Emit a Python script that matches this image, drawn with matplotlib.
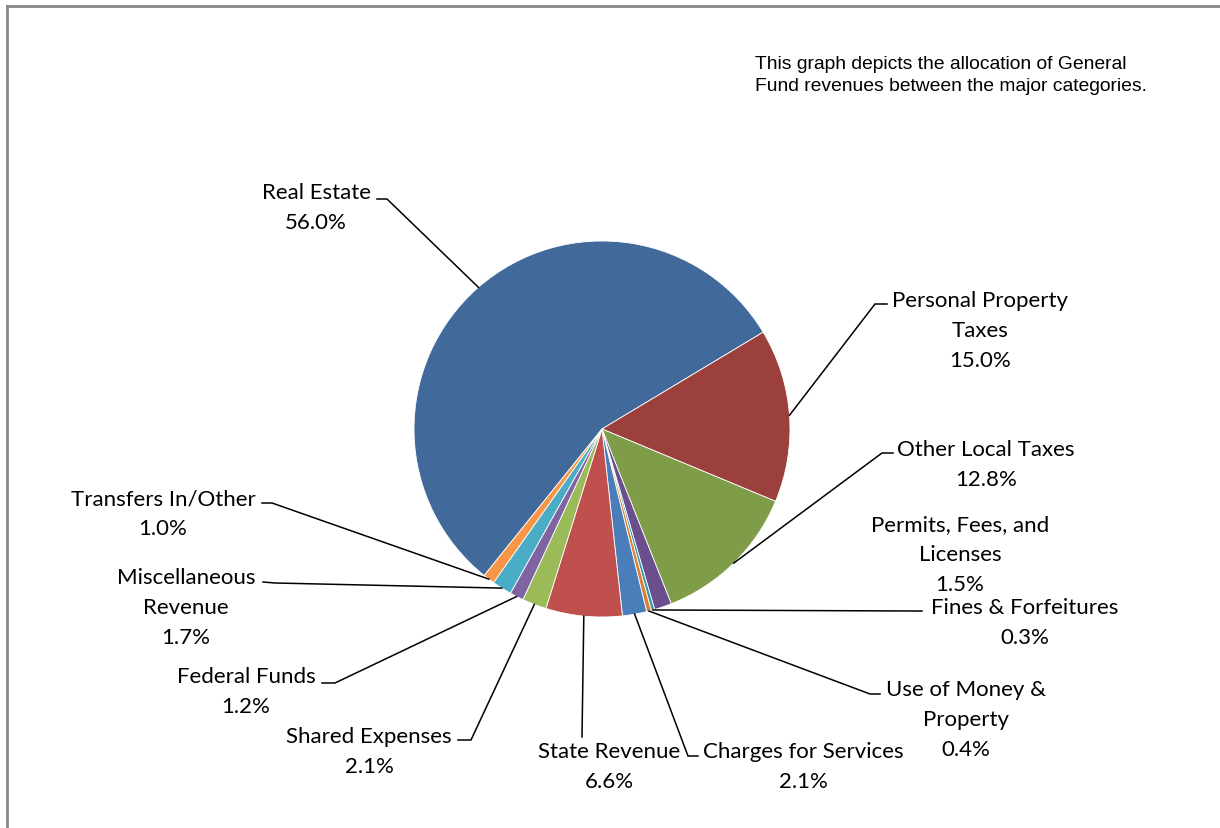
import matplotlib.pyplot as plt
from matplotlib.lines import Line2D
import numpy as np

W, H = 1220, 829

categories = ["Real Estate", "Personal Property\nTaxes", "Other Local Taxes",
              "Permits, Fees, and\nLicenses", "Fines & Forfeitures",
              "Use of Money &\nProperty", "Charges for Services", "State Revenue",
              "Shared Expenses", "Federal Funds", "Miscellaneous\nRevenue",
              "Transfers In/Other"]
shares = [56.0, 15.0, 12.8, 1.5, 0.3, 0.4, 2.1, 6.6, 2.1, 1.2, 1.7, 1.0]
colors = ["#416A9B", "#9C403E", "#7F9C48", "#6B4F8C", "#3A96AC", "#DB8032",
          "#4A7EBB", "#C0504D", "#9BBB59", "#8064A2", "#4BACC6", "#F79646"]

# label block centres, in pixels from the top-left corner
label_xy = [(316, 208), (980, 331), (986, 465), (960, 555), (1025, 623),
            (966, 720), (803, 767), (609, 767), (369, 752), (246, 692),
            (186, 608), (163, 514)]
# leader lines: elbow point, then end of the short stub next to the text
elbows = [((387, 200), (377, 200)), ((875, 305), (887, 305)),
          ((882, 454), (893, 454)), None, ((914, 612), (922, 612)),
          ((870, 695), (880, 695)), ((688, 757), (698, 757)),
          ((582, 738), (582, 738)), ((471, 741), (458, 741)),
          ((335, 684), (322, 684)), ((275, 584), (263, 583)),
          ((272, 504), (262, 504))]

cx, cy, r = 602, H - 430, 188

fig = plt.figure(figsize=(12.2, 8.29), dpi=100)
ax = fig.add_axes([0, 0, 1, 1])

wedges, _ = ax.pie(shares, colors=colors, startangle=231.2, counterclock=False,
                   center=(cx, cy), radius=r, frame=True,
                   wedgeprops=dict(edgecolor="white", linewidth=0.6))

for w, name, v, (lx, ly), el in zip(wedges, categories, shares, label_xy, elbows):
    ax.text(lx, H - ly, f"{name}\n{v:.1f}%", ha="center", va="center",
            fontsize=16, family="Lato", linespacing=1.62, color="black")
    if el is None:
        continue
    mid = np.deg2rad((w.theta1 + w.theta2) / 2)
    px, py = cx + r * np.cos(mid), cy + r * np.sin(mid)
    (ex, ey), (sx, sy) = el
    ax.plot([px, ex, sx], [py, H - ey, H - sy], color="black", lw=1.1,
            solid_joinstyle="miter")

ax.text(755, H - 75.5, "This graph depicts the allocation of General\n"
        "Fund revenues between the major categories.",
        ha="left", va="center", fontsize=13.9, family="Liberation Sans",
        linespacing=1.39)

ax.set_xlim(0, W)
ax.set_ylim(0, H)
ax.set_aspect("equal")
ax.axis("off")

# chart frame, only its top and left edges fall inside the image
fig.add_artist(Line2D([7 / W, 1.0], [1 - 7 / H, 1 - 7 / H], transform=fig.transFigure,
                      color="#878787", lw=2))
fig.add_artist(Line2D([7 / W, 7 / W], [0, 1 - 7 / H], transform=fig.transFigure,
                      color="#878787", lw=2))

fig.savefig("out.png", dpi=100)
